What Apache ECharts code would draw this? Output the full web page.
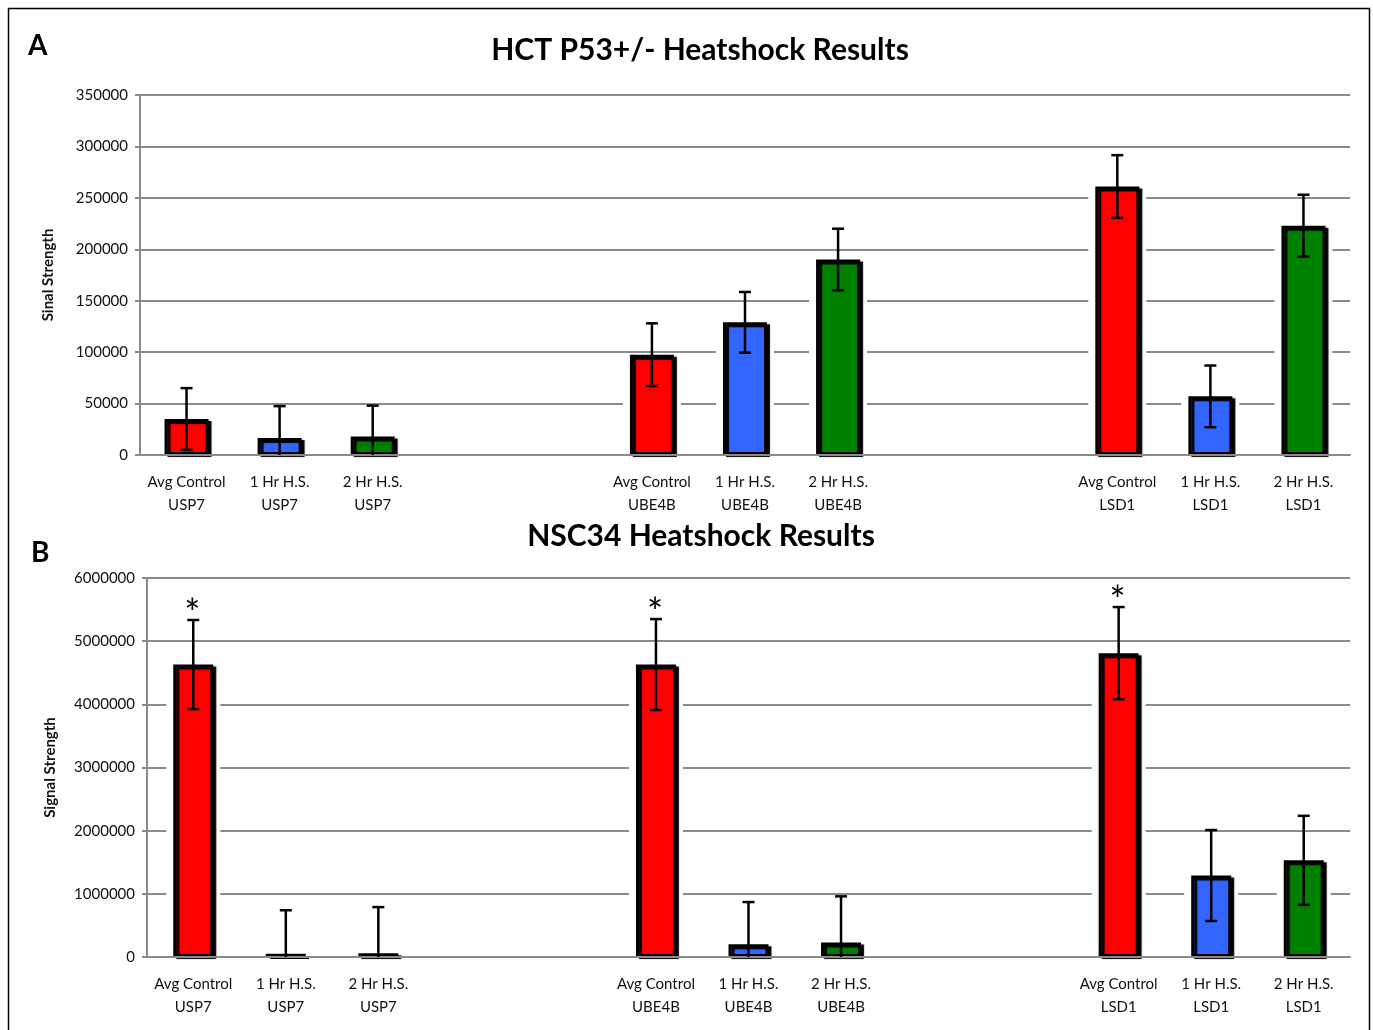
<!DOCTYPE html>
<html>
<head>
<meta charset="utf-8">
<script src="https://cdn.jsdelivr.net/npm/echarts@6/dist/echarts.min.js"></script>
<style>
  html, body { margin: 0; padding: 0; background: #fff; }
  #chart { width: 1373px; height: 1030px; }
</style>
</head>
<body>
<div id="chart"></div>
<script>
// Category slots: three treatments per protein, two empty slots between proteins
const categories = [
  'Avg Control\nUSP7', '1 Hr H.S.\nUSP7', '2 Hr H.S.\nUSP7', '', '',
  'Avg Control\nUBE4B', '1 Hr H.S.\nUBE4B', '2 Hr H.S.\nUBE4B', '', '',
  'Avg Control\nLSD1', '1 Hr H.S.\nLSD1', '2 Hr H.S.\nLSD1'
];
// Bar colour per slot (control / 1 hr / 2 hr)
const slotColors = [
  '#ff0000', '#3366ff', '#008000', null, null,
  '#ff0000', '#3366ff', '#008000', null, null,
  '#ff0000', '#3366ff', '#008000'
];

// Panel A: HCT P53 +/- signal strength (mean and error)
const meanA = [35000, 16500, 18000, null, null, 97500, 129000, 190000, null, null, 261000, 57000, 223000];
const errA  = [30000, 31000, 30000, null, null, 30500, 29500, 30000, null, null, 30500, 30000, 30000];
const ticksA = { min: 0, max: 350000, interval: 50000 };

// Panel B: NSC34 signal strength (mean and error), significance marks
const meanB = [4630000, 50000, 60000, null, null, 4630000, 200000, 230000, null, null, 4810000, 1290000, 1530000];
const errB  = [705000, 690000, 730000, null, null, 720000, 670000, 730000, null, null, 730000, 720000, 705000];
const sigB  = [1, 0, 0, null, null, 1, 0, 0, null, null, 1, 0, 0];
const ticksB = { min: 0, max: 6000000, interval: 1000000 };

const FONT = 'Lato, "Open Sans", sans-serif';
const GRID_GRAY = '#8a8a8a';

const chart = echarts.init(document.getElementById('chart'), null, { renderer: 'canvas' });

function xAxisFor(gridIndex) {
  return {
    type: 'category', gridIndex, data: categories, z: 3,
    axisLine: { lineStyle: { color: GRID_GRAY, width: 2 } },
    axisTick: { show: false },
    axisLabel: { interval: 0, color: '#111', fontFamily: FONT, fontSize: 15, lineHeight: 23, margin: 16 }
  };
}
function yAxisFor(gridIndex, ticks, name, nameGap) {
  return {
    type: 'value', gridIndex, min: ticks.min, max: ticks.max, interval: ticks.interval,
    name, nameLocation: 'middle', nameGap,
    nameTextStyle: { fontFamily: FONT, fontWeight: 'bold', fontSize: 15, color: '#111' },
    axisLine: { show: true, lineStyle: { color: GRID_GRAY, width: 2 } },
    axisTick: { show: true, length: 5, lineStyle: { color: GRID_GRAY, width: 2 } },
    axisLabel: { color: '#111', fontFamily: FONT, fontSize: 15, margin: 12, formatter: v => String(v) },
    splitLine: { lineStyle: { color: GRID_GRAY, width: 2 } }
  };
}

function barData(means) {
  return means.map((v, i) => v == null ? null : { value: v, itemStyle: { color: slotColors[i] } });
}

// White backing, a little wider than each bar, breaks the gridlines beside it
function backingSeries(idx, means, width) {
  return {
    type: 'custom', xAxisIndex: idx, yAxisIndex: idx, z: 1, silent: true,
    data: means.map((v, i) => [i, v == null ? null : v]),
    renderItem(params, api) {
      const v = api.value(1);
      if (v == null || isNaN(v)) return null;
      const top = api.coord([api.value(0), v]);
      const base = api.coord([api.value(0), 0]);
      const pad = 7;
      return {
        type: 'rect',
        shape: { x: top[0] - width / 2 - pad, y: top[1] + 3, width: width + 2 * pad, height: base[1] - top[1] - 3 },
        style: { fill: '#fff' }
      };
    }
  };
}
function mainSeries(idx, means, width) {
  return {
    type: 'bar', xAxisIndex: idx, yAxisIndex: idx, data: barData(means), barWidth: width,
    barGap: '-100%', z: 2,
    itemStyle: { borderColor: '#000', borderWidth: 3, shadowColor: '#000', shadowOffsetX: 3, shadowOffsetY: 2, shadowBlur: 1 }
  };
}
function errorSeries(idx, means, errs, marks) {
  const rows = means.map((m, i) => m == null ? [i, null, null, 0] : [i, Math.max(0, m - errs[i]), m + errs[i], marks ? marks[i] : 0]);
  return {
    type: 'custom', xAxisIndex: idx, yAxisIndex: idx, z: 5, data: rows,
    renderItem(params, api) {
      if (api.value(1) == null || isNaN(api.value(1))) return null;
      const i = api.value(0);
      const lo = api.coord([i, api.value(1)]);
      const hi = api.coord([i, api.value(2)]);
      const cap = 6;
      const style = { stroke: '#000', lineWidth: 2.5 };
      const children = [
        { type: 'line', shape: { x1: hi[0], y1: hi[1], x2: lo[0], y2: lo[1] }, style },
        { type: 'line', shape: { x1: hi[0] - cap, y1: hi[1], x2: hi[0] + cap, y2: hi[1] }, style }
      ];
      if (api.value(1) > 0) {
        children.push({ type: 'line', shape: { x1: lo[0] - cap, y1: lo[1], x2: lo[0] + cap, y2: lo[1] }, style });
      }
      if (api.value(3) === 1) {
        children.push({
          type: 'text',
          style: { text: '*', x: hi[0] - 1, y: hi[1] + 14, align: 'center', verticalAlign: 'bottom',
                   font: '38px ' + FONT, fill: '#000' }
        });
      }
      return { type: 'group', children };
    }
  };
}

function textEl(text, x, y, size, align) {
  return {
    type: 'text', x, y, z: 10,
    style: { text, font: 'bold ' + size + 'px ' + FONT, fill: '#000', align: align || 'left', verticalAlign: 'middle' }
  };
}

chart.setOption({
  animation: false,
  backgroundColor: '#fff',
  grid: [
    { left: 140, right: 23, top: 95, height: 360 },
    { left: 147, right: 23, top: 578, height: 379 }
  ],
  xAxis: [xAxisFor(0), xAxisFor(1)],
  yAxis: [
    yAxisFor(0, ticksA, 'Sinal Strength', 84),
    yAxisFor(1, ticksB, 'Signal Strength', 89)
  ],
  series: [
    backingSeries(0, meanA, 44),
    mainSeries(0, meanA, 44),
    errorSeries(0, meanA, errA, null),
    backingSeries(1, meanB, 40),
    mainSeries(1, meanB, 40),
    errorSeries(1, meanB, errB, sigB)
  ],
  graphic: [
    { type: 'rect', shape: { x: 8.5, y: 8.5, width: 1361, height: 1030 }, style: { fill: 'none', stroke: '#000', lineWidth: 1.5 }, silent: true },
    textEl('A', 28, 46, 28),
    textEl('HCT P53+/- Heatshock Results', 700, 50, 30, 'center'),
    textEl('B', 31, 553, 28),
    textEl('NSC34 Heatshock Results', 701, 536, 30, 'center')
  ]
});
</script>
</body>
</html>
